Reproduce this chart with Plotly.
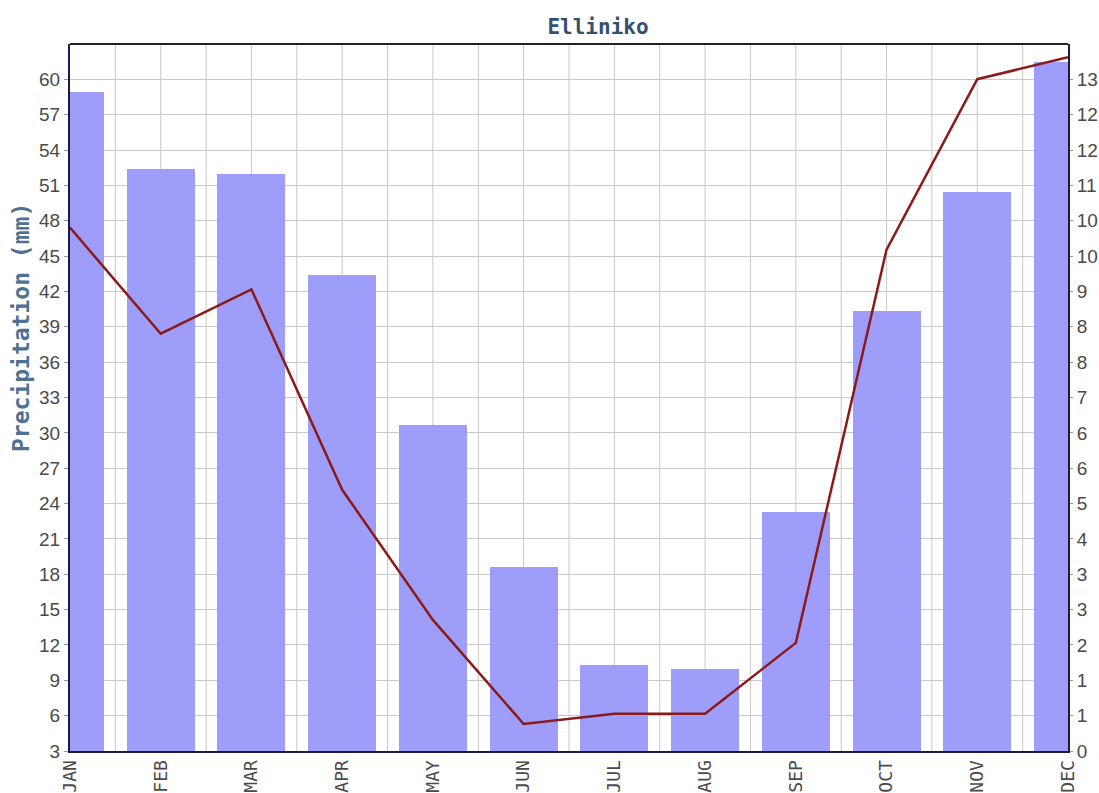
import plotly.graph_objects as go

months = ["JAN", "FEB", "MAR", "APR", "MAY", "JUN", "JUL", "AUG", "SEP", "OCT", "NOV", "DEC"]
precip_mm = [58.9, 52.4, 52.0, 43.4, 30.7, 18.6, 10.3, 10.0, 23.3, 40.3, 50.4, 61.5]
line_values = [10.26, 8.18, 9.05, 5.12, 2.57, 0.53, 0.73, 0.73, 2.12, 9.83, 13.17, 13.6]

left_ticks = [3, 6, 9, 12, 15, 18, 21, 24, 27, 30, 33, 36, 39, 42, 45, 48, 51, 54, 57, 60]
right_ticktext = ["0", "1", "1", "2", "3", "3", "4", "5", "6", "6",
                  "7", "8", "8", "9", "10", "10", "11", "12", "12", "13"]

left_range = [3, 63]
scale = 0.231  # right-axis units per left-axis unit
right_range = [0, (left_range[1] - left_range[0]) * scale]
right_tickvals = [(v - left_range[0]) * scale for v in left_ticks]

x = list(range(len(months)))

W, H = 1099, 793
ML, MR, MT, MB = 70, 31, 44, 42
PW, PH = W - ML - MR, H - MT - MB

fig = go.Figure()
fig.add_trace(go.Bar(
    x=x, y=precip_mm, width=0.75,
    marker=dict(color="#9E9EFA", line=dict(width=0)),
    showlegend=False, yaxis="y",
))
fig.add_trace(go.Scatter(
    x=x, y=line_values, mode="lines",
    line=dict(color="#8B1A1A", width=2.5),
    showlegend=False, yaxis="y2",
))

tick_font = dict(family="Liberation Sans", size=19, color="#4A4A4A")

fig.update_layout(
    width=W, height=H,
    paper_bgcolor="white", plot_bgcolor="white",
    margin=dict(l=ML, r=MR, t=MT, b=MB),
    title=dict(text="<b>Elliniko</b>", x=598 / W, xanchor="center", y=1 - 27 / H,
               yanchor="middle",
               font=dict(family="DejaVu Sans Mono", size=21, color="#34506E")),
    bargap=0,
    xaxis=dict(
        range=[0, 11], tickmode="array", tickvals=x, ticktext=months,
        tickangle=-90, tickfont=dict(family="DejaVu Sans Mono", size=18, color="#4A4A4A"),
        showgrid=False, showline=True, linecolor="#1a1a4a", linewidth=2,
        mirror=False, zeroline=False, ticks="", automargin=False,
    ),
    yaxis=dict(
        range=left_range, tickmode="array", tickvals=left_ticks,
        tickfont=tick_font,
        showgrid=True, gridcolor="#C8C8C8", gridwidth=1,
        showline=True, linecolor="#1a1a4a", linewidth=2, zeroline=False,
        ticks="outside", ticklen=4, tickcolor="#999999", automargin=False,
    ),
    yaxis2=dict(
        range=right_range, overlaying="y", side="right",
        tickmode="array", tickvals=right_tickvals, ticktext=right_ticktext,
        tickfont=tick_font,
        showgrid=False, showline=True, linecolor="#1a1a3a", linewidth=2, zeroline=False,
        ticks="outside", ticklen=3, tickcolor="#999999", automargin=False,
    ),
)

# y-axis title placed as in the reference (shifted upward)
fig.add_annotation(
    text="<b>Precipitation (mm)</b>", textangle=-90,
    xref="paper", yref="paper", x=(21 - ML) / PW, y=(751 - 328) / PH,
    xanchor="center", yanchor="middle", showarrow=False,
    font=dict(family="DejaVu Sans Mono", size=23, color="#4F7193"),
)

# vertical gridlines every half category
for i in range(1, 22):
    fig.add_shape(type="line", xref="x", yref="paper", x0=i * 0.5, x1=i * 0.5, y0=0, y1=1,
                  line=dict(color="#C8C8C8", width=1), layer="below")
# top border
fig.add_shape(type="line", xref="paper", yref="paper", x0=0, x1=1, y0=1, y1=1,
              line=dict(color="#222222", width=2))

fig.write_html(
    "out.html",
    config={"displayModeBar": False},
    post_script="document.body.style.margin='0';document.body.style.overflow='hidden';",
)
